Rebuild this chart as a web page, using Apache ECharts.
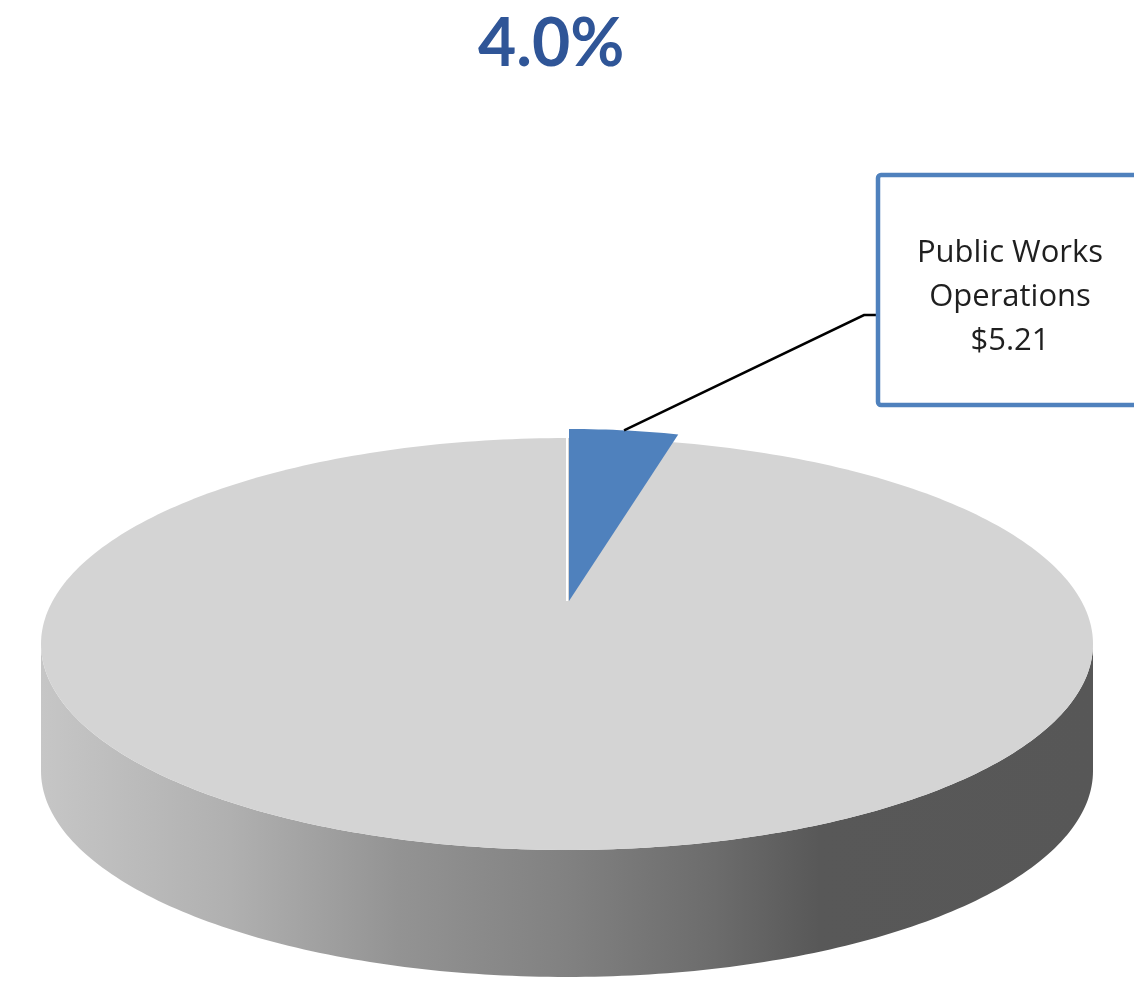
<!DOCTYPE html>
<html>
<head>
<meta charset="utf-8">
<script src="https://cdn.jsdelivr.net/npm/echarts@6/dist/echarts.min.js"></script>
<style>
  html, body { margin: 0; padding: 0; background: #ffffff; }
  #chart { width: 1134px; height: 981px; }
</style>
</head>
<body>
<div id="chart"></div>
<script>
// Budget slices (millions of dollars)
const categories = ['Public Works Operations', 'All Other Spending'];
const values = [5.21, 125.04];
const valuePrefix = '$';
// Which slice is highlighted and called out
const highlightIndex = 0;

const total = values.reduce((s, v) => s + v, 0);
const shareText = (values[highlightIndex] / total * 100).toFixed(1) + '%';

// Tilted-disc geometry
const disc = { cx: 567, cy: 644, rx: 526, ry: 206, depth: 127 };
// Lifted slice: scale and offset of its apex
const lift = { scale: 0.835, dx: 2, dy: -43 };

// point on the ellipse for an angle measured clockwise from 12 o'clock
function rimPoint(cx, cy, rx, ry, deg) {
  const t = deg * Math.PI / 180;
  return [cx + rx * Math.sin(t), cy - ry * Math.cos(t)];
}

function sectorPoints(cx, cy, rx, ry, a0, a1, withCenter) {
  const pts = withCenter ? [[cx, cy]] : [];
  const steps = Math.max(2, Math.ceil(Math.abs(a1 - a0)));
  for (let i = 0; i <= steps; i++) {
    pts.push(rimPoint(cx, cy, rx, ry, a0 + (a1 - a0) * i / steps));
  }
  return pts;
}

// cumulative angles
const angles = [];
let acc = 0;
values.forEach(v => {
  const a0 = acc / total * 360;
  acc += v;
  angles.push([a0, acc / total * 360]);
});

function renderItem(params, api) {
  const idx = params.dataIndex;
  const children = [];
  if (idx !== highlightIndex) {
    // side wall (front half of the disc)
    const top = sectorPoints(disc.cx, disc.cy, disc.rx, disc.ry, 90, 270, false);
    const bottom = top.slice().reverse().map(p => [p[0], p[1] + disc.depth]);
    children.push({
      type: 'polygon',
      z2: 1,
      shape: { points: top.concat(bottom) },
      style: {
        fill: new echarts.graphic.LinearGradient(0, 0, 1, 0, [
          { offset: 0, color: '#c6c6c6' },
          { offset: 0.18, color: '#b0b0b0' },
          { offset: 0.34, color: '#939393' },
          { offset: 0.5, color: '#818181' },
          { offset: 0.64, color: '#6c6c6c' },
          { offset: 0.74, color: '#585858' },
          { offset: 1, color: '#575757' }
        ])
      }
    });
    // top face
    children.push({
      type: 'polygon',
      z2: 2,
      shape: { points: sectorPoints(disc.cx, disc.cy, disc.rx, disc.ry, 0, 360, false) },
      style: { fill: '#d4d4d4' }
    });
  } else {
    const a = angles[idx];
    const scx = disc.cx + lift.dx, scy = disc.cy + lift.dy;
    const srx = disc.rx * lift.scale, sry = disc.ry * lift.scale;
    children.push({
      type: 'polygon',
      z2: 10,
      shape: { points: sectorPoints(scx, scy, srx, sry, a[0], a[1], true) },
      style: { fill: '#4f81bd' }
    });
    // thin light seam along the slice's leading edge
    const e0 = rimPoint(scx, scy, srx, sry, a[0]);
    children.push({
      type: 'line',
      z2: 11,
      shape: { x1: scx - 2, y1: scy, x2: e0[0] - 2, y2: e0[1] + 6 },
      style: { stroke: '#ffffff', lineWidth: 2 }
    });
    // leader from the middle of the slice's outer edge to the callout
    const mid = rimPoint(scx, scy, srx, sry, (a[0] + a[1]) / 2);
    const box = { x: 878, y: 175, w: 300, h: 230 };
    const elbowY = 315;
    children.push({
      type: 'polyline',
      z2: 12,
      shape: { points: [mid, [box.x - 14, elbowY], [box.x, elbowY]] },
      style: { stroke: '#000000', lineWidth: 2.5, fill: null }
    });
    children.push({
      type: 'rect',
      z2: 13,
      shape: { x: box.x, y: box.y, width: box.w, height: box.h, r: 3 },
      style: { fill: '#ffffff', stroke: '#4f81bd', lineWidth: 4.5 }
    });
    children.push({
      type: 'text',
      z2: 14,
      style: {
        text: 'Public Works\nOperations\n' + valuePrefix + values[idx].toFixed(2),
        x: 1010,
        y: 297,
        align: 'center',
        verticalAlign: 'middle',
        fill: '#1f1f1f',
        fontFamily: 'Open Sans',
        fontSize: 31,
        lineHeight: 44
      }
    });
  }
  return { type: 'group', children: children };
}

const chart = echarts.init(document.getElementById('chart'));
chart.setOption({
  animation: false,
  title: {
    text: shareText,
    left: 473,
    top: 7,
    textStyle: {
      color: '#2f5597',
      fontFamily: 'Lato',
      fontWeight: 'bold',
      fontSize: 66
    }
  },
  series: [{
    type: 'custom',
    coordinateSystem: 'none',
    data: categories.map((c, i) => ({ name: c, value: values[i] })),
    renderItem: renderItem
  }]
});
</script>
</body>
</html>
